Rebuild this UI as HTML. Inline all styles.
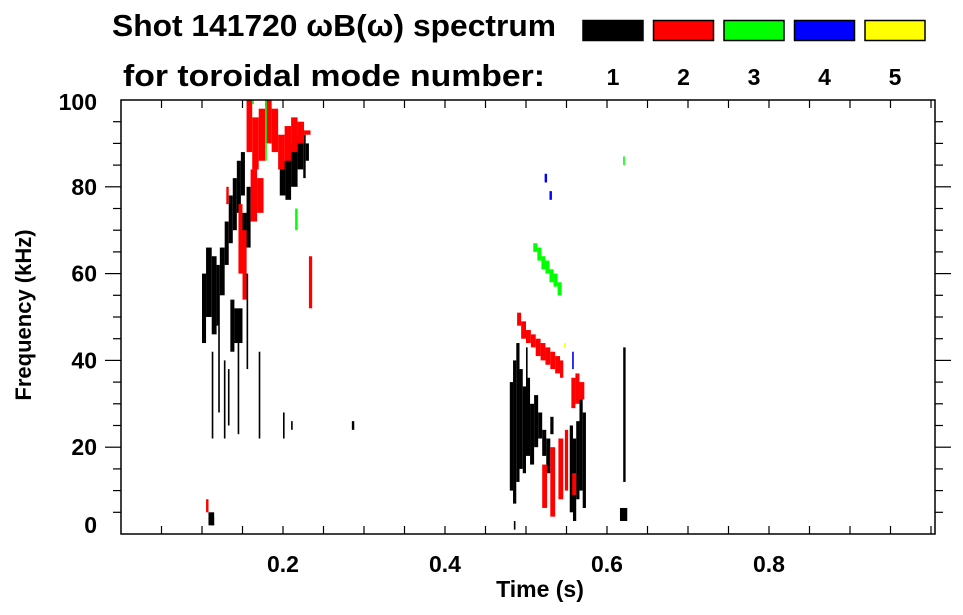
<!DOCTYPE html>
<html><head><meta charset="utf-8">
<style>
html,body{margin:0;padding:0;background:#fff;}
svg{display:block;font-family:"Liberation Sans",Arial,sans-serif;font-weight:bold;}
</style></head>
<body>
<svg id="chart" width="963" height="615" viewBox="0 0 963 615">
<text x="112" y="36" font-size="31" textLength="444" lengthAdjust="spacingAndGlyphs">Shot 141720 ωB(ω) spectrum</text>
<text x="123" y="86" font-size="31" textLength="422" lengthAdjust="spacingAndGlyphs">for toroidal mode number:</text>
<g id="legend"></g>
<g id="marks"></g>
<g id="axes"></g>
<text x="540" y="597" font-size="23" text-anchor="middle">Time (s)</text>
<text transform="translate(31,315) rotate(-90)" font-size="22" text-anchor="middle">Frequency (kHz)</text>
</svg>
<script>
// data arrays
const modeNumbers = [1, 2, 3, 4, 5];
const modeColors = ["#000000", "#ff0000", "#00ff00", "#0000ff", "#ffff00"];
const xTickValues = [0.2, 0.4, 0.6, 0.8];
const xTickLabels = ["0.2", "0.4", "0.6", "0.8"];
const yTickValues = [0, 20, 40, 60, 80, 100];
const yTickLabels = ["0", "20", "40", "60", "80", "100"];
// spectral patches: time start, time end, freq low, freq high, mode
const patchT0 = [0.100,0.105,0.112,0.118,0.122,0.128,0.133,0.138,0.143,0.148,0.135,0.140,0.150,0.155,0.196,0.203,0.210,0.218,0.225,0.228,0.112,0.120,0.127,0.132,0.144,0.155,0.170,0.200,0.210,0.108,0.111,0.285,
0.155,0.162,0.170,0.178,0.186,0.194,0.202,0.210,0.218,0.226,0.160,0.168,0.145,0.150,0.130,0.232,0.105,
0.178,0.215,0.162,
0.480,0.484,0.488,0.492,0.496,0.500,0.505,0.510,0.515,0.520,0.525,0.530,0.554,0.558,0.562,0.566,0.570,0.485,0.500,0.620,0.616,
0.489,0.494,0.500,0.506,0.512,0.518,0.524,0.530,0.536,0.542,0.556,0.561,0.566,0.520,0.530,0.540,0.548,0.557,
0.509,0.514,0.519,0.524,0.529,0.534,0.539,0.620,
0.523,0.529,0.557,0.547];
const patchT1 = [0.105,0.112,0.118,0.122,0.128,0.133,0.138,0.143,0.148,0.153,0.140,0.150,0.155,0.160,0.203,0.210,0.218,0.225,0.228,0.232,0.114,0.122,0.129,0.134,0.146,0.157,0.172,0.202,0.212,0.115,0.115,0.288,
0.162,0.170,0.178,0.186,0.194,0.202,0.210,0.218,0.226,0.234,0.168,0.176,0.150,0.155,0.133,0.236,0.108,
0.180,0.218,0.164,
0.484,0.488,0.492,0.496,0.500,0.505,0.510,0.515,0.520,0.525,0.530,0.534,0.558,0.562,0.566,0.570,0.574,0.487,0.502,0.623,0.625,
0.494,0.500,0.506,0.512,0.518,0.524,0.530,0.536,0.542,0.546,0.561,0.566,0.572,0.526,0.536,0.546,0.552,0.562,
0.514,0.519,0.524,0.529,0.534,0.539,0.544,0.622,
0.526,0.532,0.559,0.549];
const patchF0 = [44,50,46,48,55,62,67,70,74,78,42,44,60,66,78,77,80,84,82,86,22,28,22,25,23,38,22,22,24,2,2,24,
88,84,86,90,88,84,86,88,90,92,72,74,60,54,76,52,5,
86,70,99,
10,7,12,15,14,18,16,20,22,18,14,23,5,3,8,10,6,1,25,12,3,
48,45,44,43,41,40,39,38,37,36,29,30,31,6,4,8,10,9,
65,63,61,60,58,57,55,85,
81,77,38,43];
const patchF1 = [60,66,64,62,66,72,78,82,86,88,54,52,74,80,86,88,90,92,92,90,42,48,40,38,46,60,42,28,26,5,4,26,
100,96,98,100,98,92,94,96,95,93,84,82,76,70,80,64,8,
100,75,100,
35,40,44,38,34,36,30,32,28,24,22,27,25,22,26,32,28,3,43,43,6,
51,49,47,46,45,44,43,42,41,40,36,37,35,16,20,22,24,14,
67,66,64,63,61,60,58,87,
83,79,42,44];
const patchMode = [1,1,1,1,1,1,1,1,1,1,1,1,1,1,1,1,1,1,1,1,1,1,1,1,1,1,1,1,1,1,1,1,
2,2,2,2,2,2,2,2,2,2,2,2,2,2,2,2,2,
3,3,3,
1,1,1,1,1,1,1,1,1,1,1,1,1,1,1,1,1,1,1,1,1,
2,2,2,2,2,2,2,2,2,2,2,2,2,2,2,2,2,2,
3,3,3,3,3,3,3,3,
4,4,4,5];

const NS = "http://www.w3.org/2000/svg";
const L = 121, R = 935, T = 100, B = 534;
const tMax = (R - L) / 810;
function xs(t){ return L + (t / tMax) * (R - L); }
function ys(f){ return B - (f / 100) * (B - T); }
function mk(tag, attrs, parent){
  const e = document.createElementNS(NS, tag);
  for (const k in attrs) e.setAttribute(k, attrs[k]);
  parent.appendChild(e);
  return e;
}
const marks = document.getElementById('marks');
for (let i = 0; i < patchT0.length; i++) {
  const x0 = xs(patchT0[i]), x1 = xs(patchT1[i]);
  const y0 = ys(patchF1[i]), y1 = ys(patchF0[i]);
  const r = mk('rect', {x: x0, y: y0, width: Math.max(1.5, x1 - x0), height: Math.max(1.5, y1 - y0), fill: modeColors[patchMode[i] - 1]}, marks);
  
  
}
const axes = document.getElementById('axes');
const frame = mk('rect', {x: L, y: T, width: R - L, height: B - T, fill: 'none', stroke: '#000', 'stroke-width': 1.5}, axes);


for (let t = 0.05; t < tMax; t += 0.05) {
  const x = xs(t);
  const len = 8;
  const a = mk('line', {x1: x, x2: x, y1: B, y2: B - len, stroke: '#000', 'stroke-width': 1.2}, axes);
  
  
  const b = mk('line', {x1: x, x2: x, y1: T, y2: T + len, stroke: '#000', 'stroke-width': 1.2}, axes);
  
  
}
for (let f = 5; f < 100; f += 5) {
  const y = ys(f);
  const len = (f % 20 === 0) ? 16 : 8;
  const a = mk('line', {x1: L, x2: L - len, y1: y, y2: y, stroke: '#000', 'stroke-width': 1.2}, axes);
  
  
  const b = mk('line', {x1: R, x2: R + len, y1: y, y2: y, stroke: '#000', 'stroke-width': 1.2}, axes);
  
  
}
for (let i = 0; i < xTickValues.length; i++) {
  const tx = mk('text', {x: xs(xTickValues[i]), y: 572, 'font-size': 23, 'text-anchor': 'middle'}, axes);
  tx.textContent = xTickLabels[i];
  
  
}
for (let i = 0; i < yTickValues.length; i++) {
  const yy = ys(yTickValues[i]) + 8 - (yTickValues[i] === 0 ? 9 : 0) + (yTickValues[i] === 100 ? 2 : 0);
  const tx = mk('text', {x: 97, y: yy, 'font-size': 23, 'text-anchor': 'end'}, axes);
  tx.textContent = yTickLabels[i];
  
  
}
const legend = document.getElementById('legend');
for (let i = 0; i < modeNumbers.length; i++) {
  const x = 583 + i * 70.5;
  const r = mk('rect', {x: x, y: 20.5, width: 60, height: 20, fill: modeColors[i], stroke: '#000', 'stroke-width': 1.5}, legend);
  
  
  const t = mk('text', {x: x + 30, y: 85, 'font-size': 23, 'text-anchor': 'middle'}, legend);
  t.textContent = String(modeNumbers[i]);
  
  
}
</script>
</body></html>
